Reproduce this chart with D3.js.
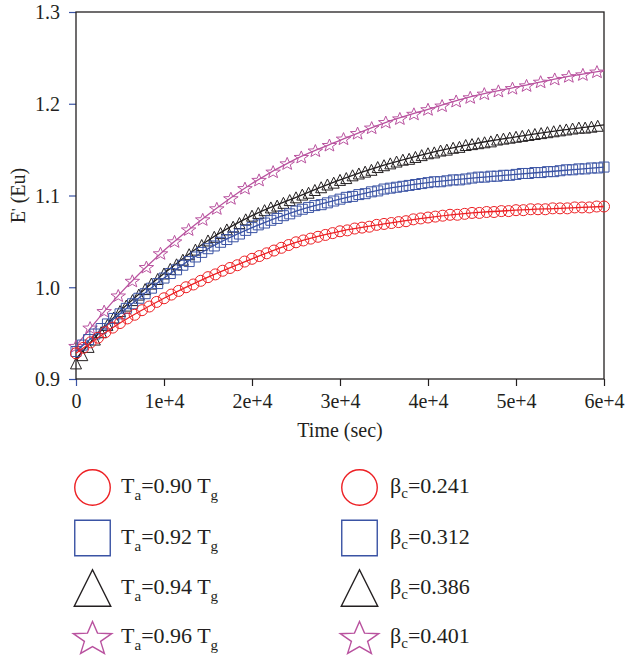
<!DOCTYPE html>
<html>
<head>
<meta charset="utf-8">
<script src="https://cdn.jsdelivr.net/npm/d3@7"></script>
<style>
  html, body { margin: 0; padding: 0; background: #fff; }
  svg { display: block; }
  svg text { font-family: "Liberation Serif", "Times New Roman", serif; fill: #231f20; }
</style>
</head>
<body>
<svg id="chart" width="625" height="656"></svg>
<script>
// ---- data ----------------------------------------------------------------
// Axis ticks
const xTicks = [0, 10000, 20000, 30000, 40000, 50000, 60000];
const xTickLabels = ["0", "1e+4", "2e+4", "3e+4", "4e+4", "5e+4", "6e+4"];
const yTicks = [0.9, 1.0, 1.1, 1.2, 1.3];

// Fitted curves, sampled every 5000 s from 0 to 60000 s
const fitTime = [0, 5000, 10000, 15000, 20000, 25000, 30000, 35000, 40000, 45000, 50000, 55000, 60000];
const fitRed     = [0.928, 0.961, 0.988, 1.011, 1.031, 1.049, 1.061, 1.069, 1.076, 1.081, 1.084, 1.086, 1.088];
const fitBlue    = [0.930, 0.971, 1.010, 1.042, 1.065, 1.083, 1.096, 1.107, 1.114, 1.119, 1.123, 1.127, 1.131];
const fitBlack   = [0.922, 0.974, 1.015, 1.051, 1.078, 1.098, 1.117, 1.133, 1.146, 1.156, 1.164, 1.171, 1.177];
const fitMagenta = [0.936, 0.993, 1.040, 1.079, 1.113, 1.140, 1.160, 1.179, 1.194, 1.208, 1.218, 1.228, 1.236];

// Measured E' values (sample interval in seconds for each series)
const stepRed = 5000 / 6;
const measRed = [
  0.928, 0.934, 0.940, 0.945, 0.951, 0.956, 0.961,
  0.966, 0.970, 0.975, 0.979, 0.984, 0.988,
  0.992, 0.996, 1.000, 1.003, 1.007, 1.011,
  1.014, 1.018, 1.021, 1.024, 1.028, 1.031,
  1.034, 1.037, 1.040, 1.043, 1.046, 1.049,
  1.051, 1.053, 1.055, 1.057, 1.059, 1.061,
  1.062, 1.064, 1.065, 1.066, 1.068, 1.069,
  1.070, 1.071, 1.072, 1.074, 1.075, 1.076,
  1.077, 1.078, 1.079, 1.079, 1.080, 1.081,
  1.081, 1.082, 1.082, 1.083, 1.083, 1.084,
  1.084, 1.085, 1.085, 1.085, 1.086, 1.086,
  1.086, 1.087, 1.087, 1.087, 1.088, 1.088
];

const stepBlue = 5000 / 7;
const measBlue = [
  0.930, 0.937, 0.943, 0.949, 0.955, 0.960, 0.966, 0.971,
  0.977, 0.982, 0.988, 0.993, 0.999, 1.004, 1.010,
  1.015, 1.019, 1.024, 1.028, 1.033, 1.038, 1.042,
  1.045, 1.049, 1.052, 1.055, 1.058, 1.062, 1.065,
  1.068, 1.070, 1.073, 1.075, 1.078, 1.080, 1.083,
  1.085, 1.087, 1.089, 1.090, 1.092, 1.094, 1.096,
  1.098, 1.099, 1.101, 1.102, 1.104, 1.105, 1.107,
  1.108, 1.109, 1.110, 1.111, 1.112, 1.113, 1.114,
  1.115, 1.115, 1.116, 1.117, 1.117, 1.118, 1.119,
  1.120, 1.120, 1.121, 1.121, 1.122, 1.122, 1.123,
  1.124, 1.124, 1.125, 1.125, 1.126, 1.126, 1.127,
  1.128, 1.128, 1.129, 1.129, 1.130, 1.130, 1.131
];

const stepBlack = 5000 / 7;
const measBlack = [
  0.917, 0.926, 0.935, 0.943, 0.951, 0.959, 0.967, 0.974,
  0.980, 0.986, 0.992, 0.998, 1.004, 1.009, 1.015,
  1.020, 1.025, 1.030, 1.036, 1.041, 1.046, 1.051,
  1.055, 1.059, 1.063, 1.066, 1.070, 1.074, 1.078,
  1.081, 1.084, 1.087, 1.089, 1.092, 1.095, 1.098,
  1.101, 1.103, 1.106, 1.109, 1.112, 1.114, 1.117,
  1.119, 1.122, 1.124, 1.126, 1.128, 1.131, 1.133,
  1.135, 1.137, 1.139, 1.140, 1.142, 1.144, 1.146,
  1.147, 1.149, 1.150, 1.152, 1.153, 1.155, 1.156,
  1.157, 1.158, 1.159, 1.161, 1.162, 1.163, 1.164,
  1.165, 1.166, 1.167, 1.168, 1.169, 1.170, 1.171,
  1.172, 1.173, 1.174, 1.174, 1.175, 1.176
];

const stepMagenta = 1600;
const measMagenta = [
  0.936, 0.956, 0.974, 0.991, 1.007, 1.022, 1.037, 1.050, 1.063, 1.074,
  1.086, 1.097, 1.108, 1.117, 1.126, 1.135, 1.142, 1.149, 1.155, 1.162,
  1.168, 1.174, 1.180, 1.184, 1.189, 1.194, 1.198, 1.203, 1.207, 1.211,
  1.214, 1.217, 1.220, 1.224, 1.227, 1.230, 1.232, 1.235
];

// Legend entries
const annealLabels = ["0.90", "0.92", "0.94", "0.96"];
const betaLabels = ["0.241", "0.312", "0.386", "0.401"];

// ---- series styling --------------------------------------------------------
const series = [
  { shape: "star",     color: "#b9529f", fit: fitMagenta, meas: measMagenta, step: stepMagenta },
  { shape: "triangle", color: "#231f20", fit: fitBlack,   meas: measBlack,   step: stepBlack },
  { shape: "square",   color: "#3a53a4", fit: fitBlue,    meas: measBlue,    step: stepBlue },
  { shape: "circle",   color: "#ed2024", fit: fitRed,     meas: measRed,     step: stepRed }
];
const legendOrder = ["circle", "square", "triangle", "star"];

// ---- layout ----------------------------------------------------------------
const FONT = '"Liberation Serif", "Times New Roman", serif';
const svg = d3.select("#chart");
const plot = { left: 76, right: 604, top: 12, bottom: 379 };

const x = d3.scaleLinear().domain([0, 60000]).range([plot.left, plot.right]);
const y = d3.scaleLinear().domain([0.9, 1.3]).range([plot.bottom, plot.top]);

// Marker outlines; "s" is the overall size (diameter / side / width)
function markerPath(shape, s) {
  if (shape === "circle") {
    const r = s / 2;
    return `M${r},0A${r},${r} 0 1,1 ${-r},0A${r},${r} 0 1,1 ${r},0Z`;
  }
  if (shape === "square") {
    const h = s / 2;
    return `M${-h},${-h}H${h}V${h}H${-h}Z`;
  }
  if (shape === "triangle") {
    const h = s;
    return `M0,${-h / 2}L${s / 2},${h / 2}L${-s / 2},${h / 2}Z`;
  }
  // five-point star, slightly flattened vertically
  const R = s / 1.902, ri = R * 0.42, k = 0.87;
  const pts = [];
  for (let i = 0; i < 10; i++) {
    const rad = i % 2 === 0 ? R : ri;
    const a = -Math.PI / 2 + i * Math.PI / 5;
    pts.push([rad * Math.cos(a), rad * Math.sin(a) * k + R * 0.08]);
  }
  return "M" + pts.map(p => p[0].toFixed(2) + "," + p[1].toFixed(2)).join("L") + "Z";
}
const plotSize = { circle: 11, square: 10, triangle: 11, star: 14.5 };

// ---- axes ------------------------------------------------------------------
const xAxis = d3.axisBottom(x).tickValues(xTicks).tickSize(7).tickPadding(8)
  .tickFormat((d, i) => xTickLabels[i]);
const gx = svg.append("g").attr("transform", `translate(0,${plot.bottom})`).call(xAxis)
  .attr("font-family", FONT);
gx.select(".domain").remove();
gx.selectAll(".tick line").attr("stroke", (d, i) => i === 0 ? "#3a53a4" : "#231f20").attr("stroke-width", 1.2);
gx.selectAll(".tick text").attr("font-size", 20).style("font-family", FONT).attr("fill", "#231f20");

const yAxis = d3.axisLeft(y).tickValues(yTicks).tickSize(7).tickPadding(9).tickFormat(d3.format(".1f"));
const gy = svg.append("g").attr("transform", `translate(${plot.left},0)`).call(yAxis)
  .attr("font-family", FONT);
gy.select(".domain").remove();
gy.selectAll(".tick line").attr("stroke", "#3a53a4").attr("stroke-width", 1.2);
gy.selectAll(".tick text").attr("font-size", 20).style("font-family", FONT).attr("fill", "#231f20")
  .attr("dy", "0.34em");

// plot frame
svg.append("rect")
  .attr("x", plot.left).attr("y", plot.top)
  .attr("width", plot.right - plot.left).attr("height", plot.bottom - plot.top)
  .attr("fill", "none").attr("stroke", "#231f20").attr("stroke-width", 1.3);

// axis titles
svg.append("text")
  .attr("x", (plot.left + plot.right) / 2).attr("y", 437)
  .attr("text-anchor", "middle").attr("font-size", 20)
  .style("font-family", FONT)
  .text("Time (sec)");

const yt = svg.append("text")
  .attr("transform", `translate(25,${(plot.top + plot.bottom) / 2}) rotate(-90)`)
  .attr("text-anchor", "middle").attr("font-size", 20)
  .style("font-family", FONT);
yt.append("tspan").text("E");
yt.append("tspan").attr("dy", -3).attr("font-size", 15).text("'");
yt.append("tspan").attr("dy", 3).text(" (Eu)");

// ---- curves and markers -----------------------------------------------------
const line = d3.line()
  .x((d, i) => x(fitTime[i]))
  .y(d => y(d))
  .curve(d3.curveMonotoneX);

const gData = svg.append("g");
series.forEach(s => {
  const g = gData.append("g");
  g.append("path")
    .attr("d", line(s.fit))
    .attr("fill", "none").attr("stroke", s.color).attr("stroke-width", 1.3);
  g.selectAll("path.mk").data(s.meas).join("path")
    .attr("class", "mk")
    .attr("transform", (d, i) => `translate(${x(i * s.step)},${y(d)})`)
    .attr("d", markerPath(s.shape, plotSize[s.shape]))
    .attr("fill", "none").attr("stroke", s.color).attr("stroke-width", 1);
});

// ---- legend -----------------------------------------------------------------
const legendRows = [487.5, 538, 588, 637.5];
const legendCols = [
  { mx: 92.5, tx: 121, kind: "anneal", labels: annealLabels },
  { mx: 359.5, tx: 390, kind: "beta", labels: betaLabels }
];
const legendSize = { circle: 35.5, square: 35.5, triangle: 36.5, star: 38.5 };

legendCols.forEach(col => {
  legendOrder.forEach((shape, i) => {
    const s = series.find(d => d.shape === shape);
    svg.append("path")
      .attr("transform", `translate(${col.mx},${legendRows[i]})`)
      .attr("d", markerPath(shape, legendSize[shape]))
      .attr("fill", "none").attr("stroke", s.color).attr("stroke-width", 1.4);

    const t = svg.append("text")
      .attr("x", col.tx).attr("y", legendRows[i] + 5.5)
      .attr("font-size", 22)
      .style("font-family", FONT);
    if (col.kind === "anneal") {
      t.append("tspan").text("T");
      t.append("tspan").attr("font-size", 15).attr("dy", 7).text("a");
      t.append("tspan").attr("dy", -7).text("=" + col.labels[i] + " T");
      t.append("tspan").attr("font-size", 15).attr("dy", 7).text("g");
    } else {
      t.append("tspan").text("β");
      t.append("tspan").attr("font-size", 15).attr("dy", 5).text("c");
      t.append("tspan").attr("dy", -5).text("=" + col.labels[i]);
    }
  });
});
</script>
</body>
</html>
